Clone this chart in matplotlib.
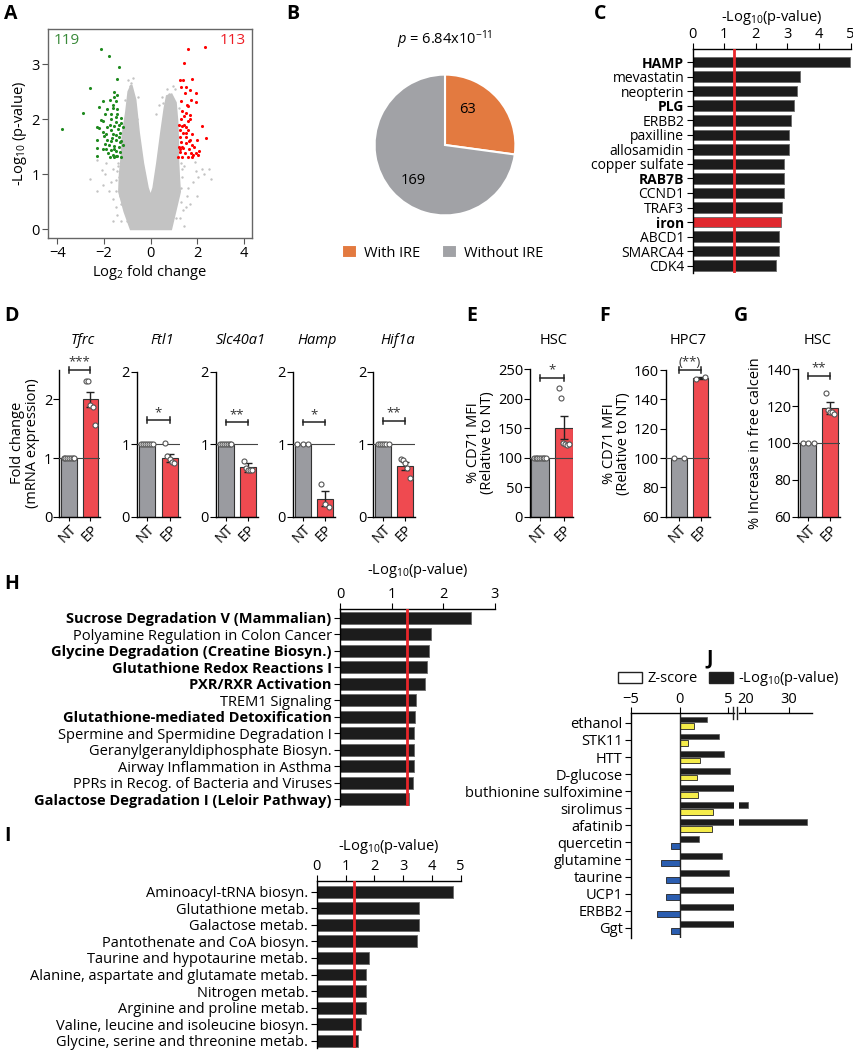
import numpy as np
import matplotlib
matplotlib.use('Agg')
import matplotlib.pyplot as plt
from matplotlib.patches import Patch
from matplotlib.lines import Line2D

plt.rcParams['font.family'] = ['Open Sans', 'DejaVu Sans']
plt.rcParams['mathtext.fontset'] = 'custom'
plt.rcParams['mathtext.rm'] = 'Open Sans'
plt.rcParams['mathtext.it'] = 'Open Sans:italic'
plt.rcParams['mathtext.bf'] = 'Open Sans:bold'
plt.rcParams['font.size'] = 9
plt.rcParams['axes.linewidth'] = 1.0

# ---------------- data ----------------
# A: volcano
green_x = [-2.13, -1.80, -1.34, -1.46, -2.61, -2.91, -3.80,
           -1.56, -1.42, -1.59, -1.73, -2.02, -1.47, -2.21, -1.63, -1.42, -1.89,
           -1.95, -1.70, -1.48, -1.68, -1.27, -2.14, -2.02, -1.48, -1.27, -2.28,
           -2.21, -1.85, -1.59, -1.39, -1.20, -1.70, -2.06, -1.91, -1.63, -1.48,
           -1.34, -2.31, -1.85, -1.68, -1.48, -1.30, -1.96, -1.77, -1.56, -1.34,
           -1.20, -2.31, -2.06, -1.70, -1.48, -1.30, -1.84, -1.63, -1.42, -2.28,
           -1.73, -1.48, -1.27, -1.59, -1.25, -1.35, -1.45, -1.55, -1.65, -1.75,
           -1.90, -2.00, -1.60, -1.30]
green_y = [3.27, 3.15, 2.95, 2.74, 2.57, 2.11, 1.82,
           2.50, 2.44, 2.41, 2.35, 2.33, 2.33, 2.22, 2.25, 2.19, 2.18,
           2.10, 2.10, 2.04, 2.01, 2.03, 1.98, 1.96, 1.95, 1.93, 1.86,
           1.84, 1.86, 1.87, 1.83, 1.85, 1.80, 1.77, 1.74, 1.74, 1.71,
           1.68, 1.63, 1.63, 1.61, 1.62, 1.59, 1.55, 1.53, 1.51, 1.50,
           1.53, 1.48, 1.45, 1.44, 1.42, 1.41, 1.38, 1.35, 1.33, 1.33,
           1.31, 1.33, 1.32, 1.31, 1.60, 1.90, 2.10, 1.45, 1.65, 1.90,
           1.45, 1.70, 2.20, 1.75]
red_x = [1.62, 2.35, 1.44, 1.76, 1.26, 1.40, 1.30, 1.52, 1.69, 1.47, 1.93,
         1.29, 1.72, 1.95, 1.62, 1.33, 1.54, 1.69, 1.43, 1.59, 1.21, 1.35,
         1.50, 2.22, 1.26, 1.62, 1.40, 1.79, 1.26, 1.50, 1.69, 1.98, 2.39,
         1.30, 1.54, 1.76, 1.21, 1.40, 1.65, 1.88, 2.09, 1.26, 1.47, 1.73,
         1.96, 1.18, 1.36, 1.59, 1.76, 1.80, 2.05, 1.65, 1.45, 1.30, 1.55,
         1.35, 1.50, 1.25, 1.70]
red_y = [3.28, 3.31, 3.02, 2.74, 2.71, 2.72, 2.59, 2.59, 2.54, 2.47, 2.48,
         2.33, 2.35, 2.31, 2.24, 2.15, 2.11, 2.07, 2.06, 1.97, 1.89, 1.88,
         1.85, 1.88, 1.81, 1.80, 1.75, 1.74, 1.68, 1.67, 1.63, 1.63, 1.66,
         1.59, 1.56, 1.53, 1.50, 1.47, 1.45, 1.49, 1.43, 1.40, 1.38, 1.38,
         1.38, 1.32, 1.31, 1.32, 1.31, 1.35, 1.35, 1.60, 1.90, 2.00, 2.25,
         1.50, 1.75, 1.45, 2.00]
# outline of the dense grey cloud of non-significant genes
cloud_x = [-0.85, -1.12, -1.35, -1.32, -1.25, -1.20, -1.05, -0.95, -0.82, -0.65,
           -0.50, -0.32, -0.12, 0.00, 0.12, 0.28, 0.45, 0.60, 0.70, 0.90, 1.08,
           1.15, 1.18, 1.18, 1.22, 1.26, 1.06, 0.88]
cloud_y = [0.00, 0.32, 0.68, 1.00, 1.30, 1.71, 2.13, 2.50, 2.62, 2.35, 1.75,
           1.20, 0.75, 0.60, 0.75, 1.20, 1.75, 2.20, 2.42, 2.45, 2.30, 1.95,
           1.60, 1.30, 0.95, 0.68, 0.32, 0.00]
gray_x = [-2.60, -2.30, -2.10, -1.95, -1.80, -1.70, -1.60, -1.50, -1.45, -1.35,
          -1.30, -1.40, -0.95, -0.90, -0.85, -0.70, -0.60, 0.25, 0.35, 0.50,
          0.70, 0.80, 1.30, 1.40, 1.50, 1.60, 1.70, 1.80, 1.95, 2.05, 2.20,
          2.30, 2.60, 1.90, -1.90, -2.05, 1.35, -1.25, 1.25, -1.15,
          -1.50, -1.45, -1.38, -1.50, -1.60, -1.25, -1.00, 1.30, 1.35, 1.45,
          1.30, 1.55, 1.10, -0.75, -0.85, -1.10, 1.20, 1.05, 0.95, -2.30,
          2.00, 2.50, 1.45, -1.60, -0.55, 0.55]
gray_y = [0.92, 1.25, 1.08, 1.00, 0.70, 0.85, 0.55, 0.40, 0.25, 0.95, 0.60,
          1.15, 2.72, 2.60, 2.45, 2.20, 2.00, 2.10, 2.25, 2.40, 2.55, 2.45,
          0.50, 0.35, 0.40, 0.75, 0.45, 0.85, 1.05, 0.95, 1.10, 1.00, 0.92,
          1.22, 1.20, 0.80, 1.10, 0.15, 0.20, 0.45,
          0.70, 1.05, 1.20, 0.90, 1.10, 0.45, 0.15, 0.75, 0.95, 1.15,
          1.20, 0.60, 0.20, 2.75, 2.65, 2.35, 2.20, 2.55, 2.60, 0.70,
          0.60, 1.10, 0.05, 0.15, 2.40, 2.30]
n_down, n_up = 119, 113

# B: pie
ire_counts = [63, 169]
ire_labels = ['With IRE', 'Without IRE']

# C: upstream regulators
c_labels = ['HAMP', 'mevastatin', 'neopterin', 'PLG', 'ERBB2', 'paxilline',
            'allosamidin', 'copper sulfate', 'RAB7B', 'CCND1', 'TRAF3', 'iron',
            'ABCD1', 'SMARCA4', 'CDK4']
c_values = [4.98, 3.38, 3.29, 3.19, 3.11, 3.06, 3.06, 2.89, 2.89, 2.89, 2.83,
            2.80, 2.74, 2.73, 2.64]
c_bold = ['HAMP', 'PLG', 'RAB7B', 'iron']

# D: qPCR
genes = ['Tfrc', 'Ftl1', 'Slc40a1', 'Hamp', 'Hif1a']
nt_points = [[1.0] * 7, [1.0] * 7, [1.0] * 7, [1.0] * 3, [1.0] * 6]
ep_mean = [2.00, 0.81, 0.68, 0.25, 0.70]
ep_sem = [0.13, 0.06, 0.06, 0.10, 0.06]
ep_points = [[2.31, 2.31, 1.90, 1.87, 1.57],
             [1.01, 0.84, 0.80, 0.76, 0.74],
             [0.77, 0.67, 0.64, 0.64, 0.65],
             [0.45, 0.18, 0.13],
             [0.80, 0.78, 0.74, 0.67, 0.54]]
d_stars = ['***', '*', '**', '*', '**']
d_bracket = [2.50, 1.33, 1.30, 1.30, 1.32]

# E-G
efg_titles = ['HSC', 'HPC7', 'HSC']
efg_nt_points = [[100.0] * 8, [100.0] * 2, [100.0] * 3]
efg_ep_mean = [151.0, 154.5, 119.0]
efg_ep_sem = [19.0, 0.6, 3.0]
efg_ep_points = [[219, 202, 125, 123, 122, 124], [154, 155.5], [127, 118, 117, 117, 116]]
efg_stars = ['*', '(**)', '**']
efg_bracket = [236, 160, 136.5]

# H: canonical pathways
h_labels = ['Sucrose Degradation V (Mammalian)', 'Polyamine Regulation in Colon Cancer',
            'Glycine Degradation (Creatine Biosyn.)', 'Glutathione Redox Reactions I',
            'PXR/RXR Activation', 'TREM1 Signaling', 'Glutathione-mediated Detoxification',
            'Spermine and Spermidine Degradation I', 'Geranylgeranyldiphosphate Biosyn.',
            'Airway Inflammation in Asthma', 'PPRs in Recog. of Bacteria and Viruses',
            'Galactose Degradation I (Leloir Pathway)']
h_values = [2.53, 1.76, 1.73, 1.68, 1.65, 1.48, 1.46, 1.43, 1.43, 1.43, 1.41, 1.34]
h_bold = ['Sucrose Degradation V (Mammalian)', 'Glycine Degradation (Creatine Biosyn.)',
          'Glutathione Redox Reactions I', 'PXR/RXR Activation',
          'Glutathione-mediated Detoxification', 'Galactose Degradation I (Leloir Pathway)']

# I: KEGG
i_labels = ['Aminoacyl-tRNA biosyn.', 'Glutathione metab.', 'Galactose metab.',
            'Pantothenate and CoA biosyn.', 'Taurine and hypotaurine metab.',
            'Alanine, aspartate and glutamate metab.', 'Nitrogen metab.',
            'Arginine and proline metab.', 'Valine, leucine and isoleucine biosyn.',
            'Glycine, serine and threonine metab.']
i_values = [4.72, 3.55, 3.55, 3.47, 1.82, 1.71, 1.71, 1.70, 1.55, 1.42]

# J: z-score / p-value
j_labels = ['ethanol', 'STK11', 'HTT', 'D-glucose', 'buthionine sulfoximine',
            'sirolimus', 'afatinib', 'quercetin', 'glutamine', 'taurine', 'UCP1',
            'ERBB2', 'Ggt']
j_zscore = [1.5, 0.9, 2.1, 1.8, 1.9, 3.4, 3.3, -0.9, -1.9, -1.4, -1.4, -2.3, -0.9]
j_logp = [2.8, 4.1, 4.6, 5.2, 7.0, 20.7, 34.1, 2.0, 4.4, 5.1, 7.5, 7.4, 7.3]

# ---------------- styles ----------------
W, H = 854, 1050
GRAY_BAR = '#9a9ba0'
RED_BAR = '#ef4a50'
BLACK_BAR = '#1c1c1c'
THRESH = '#e8262a'

fig = plt.figure(figsize=(W / 100, H / 100), dpi=100)


def box(x0, y0, x1, y1):
    return fig.add_axes([x0 / W, 1 - y1 / H, (x1 - x0) / W, (y1 - y0) / H])


def letter(x, y, s):
    fig.text(x / W, 1 - y / H, s, fontsize=14, fontweight='bold', ha='left', va='top')


# ---------------- A ----------------
ax = box(48, 29, 252, 238)
ax.fill(cloud_x, cloud_y, color='#c3c3c3', lw=1.5, zorder=1)
ax.scatter(gray_x, gray_y, s=3, color='#c3c3c3', lw=0, zorder=1)
ax.scatter(green_x, green_y, s=5, color='#1f8a1f', lw=0, zorder=2)
ax.scatter(red_x, red_y, s=5, color='#ff0000', lw=0, zorder=2)
ax.set_xlim(-4.4, 4.35)
ax.set_ylim(-0.16, 3.64)
ax.set_xticks([-4, -2, 0, 2, 4])
ax.set_yticks([0, 1, 2, 3])
ax.tick_params(labelsize=10.5, length=4, color='#555555', pad=2)
for s in ax.spines.values():
    s.set_color('#666666')
ax.text(0.03, 0.98, str(n_down), transform=ax.transAxes, color='#3a8a3a', fontsize=11,
        ha='left', va='top')
ax.text(0.97, 0.98, str(n_up), transform=ax.transAxes, color='#ee1c24', fontsize=11,
        ha='right', va='top')
ax.set_xlabel('Log$_2$ fold change', fontsize=10.5, labelpad=1)
ax.set_ylabel('-Log$_{10}$ (p-value)', fontsize=10.5, labelpad=2)
letter(4, 4, 'A')

# ---------------- B ----------------
ax = box(357, 57, 533, 233)
wedges, _ = ax.pie(ire_counts, colors=['#e37a40', '#a1a2a6'], startangle=90,
                   counterclock=False, wedgeprops=dict(edgecolor='white', linewidth=1.5))
ax.text(0.32, 0.5, str(ire_counts[0]), fontsize=10.5, ha='center', va='center')
ax.text(-0.45, -0.5, str(ire_counts[1]), fontsize=10.5, ha='center', va='center')
ax.set_aspect('equal')
fig.text(445 / W, 1 - 40 / H, '$p$ = 6.84x10$^{-11}$', fontsize=10.5, ha='center', va='center')
fig.legend(wedges, ire_labels, loc='center', bbox_to_anchor=(443 / W, 1 - 253 / H), ncol=2,
           frameon=False, fontsize=10.5, handlelength=1.0, handleheight=1.0,
           handletextpad=0.5, columnspacing=1.5)
letter(286, 4, 'B')


# ---------------- horizontal bar panels ----------------
def hbar_panel(ax, labels, values, bold, xmax, ticks, ylim, colors, fs, title_y):
    y = np.arange(len(labels))
    ax.barh(y, values, height=0.72, color=colors, edgecolor='#6a6a6a', linewidth=0.6, zorder=2)
    ax.axvline(1.3, color=THRESH, lw=2, zorder=3)
    ax.set_xlim(0, xmax)
    ax.set_ylim(ylim)
    ax.xaxis.tick_top()
    ax.set_xticks(ticks)
    ax.set_yticks(y)
    ax.set_yticklabels(labels)
    for lbl in ax.get_yticklabels():
        if lbl.get_text() in bold:
            lbl.set_fontweight('bold')
    ax.spines['right'].set_visible(False)
    ax.spines['bottom'].set_visible(False)
    ax.tick_params(axis='y', length=4, pad=2, labelsize=fs)
    ax.tick_params(axis='x', length=4, pad=1, labelsize=10.5)
    ax.text(0.5, title_y, '-Log$_{10}$(p-value)', transform=ax.transAxes, ha='center',
            va='bottom', fontsize=10.5)


# ---------------- C ----------------
ax = box(692.7, 49, 850.7, 273)
c_colors = ['#e0282e' if l == 'iron' else BLACK_BAR for l in c_labels]
hbar_panel(ax, c_labels, c_values, c_bold, 5, [0, 1, 2, 3, 4, 5], (14.5, -0.9), c_colors,
           10, 1.10)
letter(594, 4, 'C')


# ---------------- D-G ----------------
def spread(n, w):
    return np.linspace(-w, w, n) if n > 1 else np.zeros(1)


def dot_bar(ax, nt, ep, mean, sem, stars, by, ylim, yticks, ref):
    nt_mean = np.mean(nt)
    span = ylim[1] - ylim[0]
    ax.bar([0, 1], [nt_mean, mean], width=0.72, color=[GRAY_BAR, RED_BAR],
           edgecolor='#333333', linewidth=0.8, zorder=2)
    ax.errorbar([1], [mean], yerr=[sem], color='#222222', capsize=3, lw=1, capthick=1, zorder=3)
    ax.scatter(spread(len(nt), 0.25), nt, s=13, facecolor='white', edgecolor='#555555',
               lw=0.8, zorder=4, clip_on=False)
    ax.scatter(1 + spread(len(ep), 0.2), ep, s=13, facecolor='white', edgecolor='#555555',
               lw=0.8, zorder=4, clip_on=False)
    ax.axhline(ref, color='#444444', lw=0.8, zorder=3)
    ax.plot([0, 1], [by, by], color='#222222', lw=1.1, clip_on=False)
    for xe in (0, 1):
        ax.plot([xe, xe], [by - span * 0.02, by + span * 0.02], color='#222222', lw=1.1,
                clip_on=False)
    ax.text(0.5, by + span * 0.01, stars, ha='center', va='bottom', fontsize=9.5,
            color='#333333')
    ax.set_ylim(ylim)
    ax.set_yticks(yticks)
    ax.set_xticks([0, 1])
    ax.set_xticklabels(['NT', 'EP'], rotation=45, ha='right', rotation_mode='anchor')
    ax.tick_params(axis='x', length=3, pad=1, labelsize=10.5)
    ax.tick_params(axis='y', length=4, pad=1, labelsize=10.5)
    ax.spines['right'].set_visible(False)
    ax.spines['top'].set_visible(False)


d_boxes = [(59.3, 370, 100, 516.7), (136.7, 371.7, 180, 516.7), (216, 371.7, 258, 516.7),
           (292.7, 371.7, 335, 516.7), (373.3, 371.7, 415, 516.7)]
for i, g in enumerate(genes):
    ax = box(*d_boxes[i])
    ylim = (0, 2.5) if i == 0 else (0, 2)
    dot_bar(ax, nt_points[i], ep_points[i], ep_mean[i], ep_sem[i], d_stars[i],
            d_bracket[i], ylim, [0, 1, 2], 1.0)
    ax.set_xlim(-0.45, 1.45)
    fig.text((d_boxes[i][0] + d_boxes[i][2]) / 2 / W + 0.004, 1 - 340 / H, g,
             fontsize=10.5, style='italic', ha='center', va='center')
    if i == 0:
        ax.set_ylabel('Fold change\n(mRNA expression)', fontsize=10.5, labelpad=3,
                      linespacing=0.95)
letter(4, 306, 'D')

efg_boxes = [(530, 369.3, 573, 516.7), (666, 370, 710, 516.7), (798.3, 369.3, 840, 516.7)]
efg_ylims = [(0, 250), (60, 160), (60, 140)]
efg_ticks = [[0, 50, 100, 150, 200, 250], [60, 80, 100, 120, 140, 160],
             [60, 80, 100, 120, 140]]
efg_xlims = [(-0.42, 1.38), (-0.6, 1.43), (-0.46, 1.46)]
efg_ylabels = ['% CD71 MFI\n(Relative to NT)', '% CD71 MFI\n(Relative to NT)',
               '% Increase in free calcein']
efg_title_x = [554, 688, 818]
for i in range(3):
    ax = box(*efg_boxes[i])
    dot_bar(ax, efg_nt_points[i], efg_ep_points[i], efg_ep_mean[i], efg_ep_sem[i],
            efg_stars[i], efg_bracket[i], efg_ylims[i], efg_ticks[i], 100)
    ax.set_xlim(efg_xlims[i])
    ax.set_ylabel(efg_ylabels[i], fontsize=10.5, labelpad=2, linespacing=0.95)
    fig.text(efg_title_x[i] / W, 1 - 340 / H, efg_titles[i], fontsize=10.5,
             ha='center', va='center')
letter(466, 306, 'E')
letter(599, 306, 'F')
letter(734, 306, 'G')

# ---------------- H ----------------
ax = box(340, 609.3, 495, 806)
hbar_panel(ax, h_labels, h_values, h_bold, 3, [0, 1, 2, 3], (11.4, -0.51),
           [BLACK_BAR] * len(h_labels), 10.5, 1.15)
letter(4, 574, 'H')

# ---------------- I ----------------
ax = box(316.7, 881, 460.7, 1048)
hbar_panel(ax, i_labels, i_values, [], 5, [0, 1, 2, 3, 4, 5], (9.44, -0.65),
           [BLACK_BAR] * len(i_labels), 10.5, 1.15)
letter(4, 826, 'I')

# ---------------- J ----------------
axL = box(631, 713, 734, 938)
axR = box(739, 713, 812, 938)
yj = np.arange(len(j_labels))
zcol = ['#f5ec4a' if z > 0 else '#2a5db0' for z in j_zscore]
for a in (axL, axR):
    a.barh(yj - 0.2, j_logp, height=0.34, color=BLACK_BAR, edgecolor='#555555', lw=0.5)
    a.set_ylim(12.6, -0.58)
    a.xaxis.tick_top()
    a.spines['right'].set_visible(False)
    a.spines['bottom'].set_visible(False)
    a.tick_params(axis='x', length=4, pad=0.5, labelsize=10.5)
axL.barh(yj + 0.2, j_zscore, height=0.34, color=zcol, edgecolor='#222222', lw=0.6)
axL.axvline(0, color='#222222', lw=1)
axL.set_xlim(-5, 5.6)
axL.set_xticks([-5, 0, 5])
axL.set_yticks(yj)
axL.set_yticklabels(j_labels)
axL.tick_params(axis='y', length=4, pad=2, labelsize=10.5)
axR.set_xlim(18.6, 35.2)
axR.set_xticks([20, 30])
axR.set_yticks([])
axR.spines['left'].set_visible(False)
for xb in (733.5, 737.5):
    fig.add_artist(Line2D([xb / W, xb / W], [1 - 707 / H, 1 - 719 / H], color='#222222', lw=1))
fig.legend(handles=[Patch(facecolor='white', edgecolor='#222222', label='Z-score'),
                    Patch(facecolor=BLACK_BAR, edgecolor='#222222', label='-Log$_{10}$(p-value)')],
           loc='center', bbox_to_anchor=(729 / W, 1 - 679 / H), ncol=2, frameon=False,
           fontsize=10.5, handlelength=1.6, handleheight=0.8, handletextpad=0.4,
           columnspacing=0.8, borderpad=0.1)
letter(706, 648, 'J')

fig.savefig('out.png', dpi=100)
